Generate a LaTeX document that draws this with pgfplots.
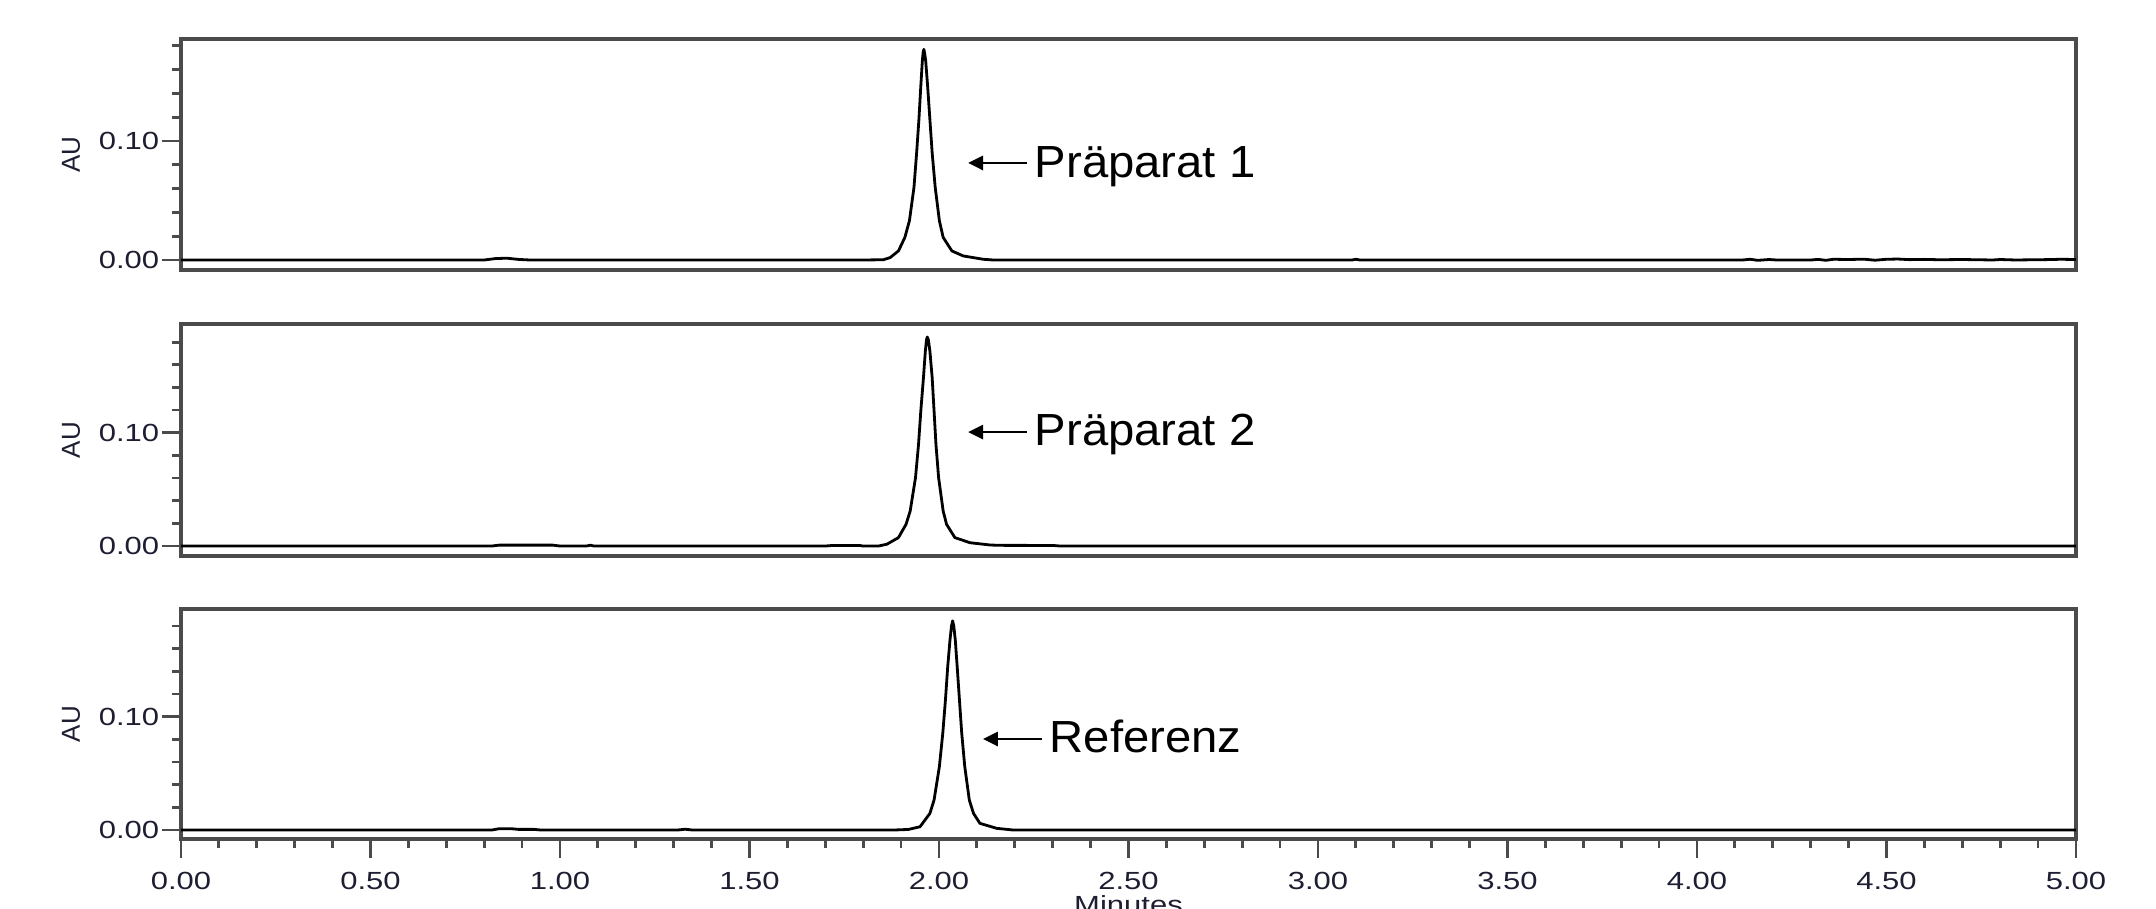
\documentclass[border=0pt]{standalone}
\usepackage{fontspec}
\setmainfont{Liberation Sans}
\newfontfamily\tickfont[FakeStretch=1.25]{Liberation Sans}
\newfontfamily\annfont[FakeStretch=1.05]{Liberation Sans}
\usepackage{pgfplots}
\pgfplotsset{compat=1.18}
\usetikzlibrary{arrows.meta}
\definecolor{framegray}{RGB}{75,75,75}
\definecolor{labelink}{RGB}{30,30,50}

\pgfplotsset{
  chrom/.style={
    scale only axis, anchor=south west,
    width=473.75pt,
    xmin=0, xmax=5,
    axis line style={draw=framegray, line width=0.85pt},
    tick pos=left, tick align=outside,
    every tick/.style={framegray, line width=0.7pt},
    major tick length=4.75pt, minor tick length=2.25pt,
    ytick={0,0.1}, yticklabels={0.00,0.10},
    minor ytick={0.02,0.04,0.06,0.08,0.12,0.14,0.16,0.18},
    yticklabel style={font=\tickfont\fontsize{6.2}{7}\selectfont, text=labelink, inner sep=0.5pt},
    ylabel={AU},
    ylabel style={at={(axis description cs:-0.058,0.5)}, anchor=center,
                  font=\fontsize{6.5}{7}\selectfont, text=labelink},
    xtick=\empty,
  },
  trace/.style={black, line width=0.7pt, line join=round},
}
\tikzset{
  pointer/.style={-{Triangle[length=3.75pt,width=3.6pt]}, black, line width=0.5pt},
  anntext/.style={anchor=base west, inner sep=0pt, font=\annfont\fontsize{11.25}{13}\selectfont},
}

\begin{document}
\begin{tikzpicture}

% Praeparat 1
\begin{axis}[chrom, at={(45.25pt,159.75pt)}, height=57.75pt, ymin=-0.0084, ymax=0.1857]
\addplot[trace] coordinates {
(0,0)(0.80,0)(0.83,0.0012)(0.86,0.0015)(0.89,0.0005)(0.92,0)
(1.80,0)(1.853,0.0002)(1.871,0.002)(1.893,0.0076)(1.910,0.019)(1.922,0.033)
(1.934,0.061)(1.941,0.090)(1.947,0.118)(1.952,0.146)(1.956,0.167)(1.958,0.174)
(1.960,0.177)(1.962,0.174)(1.965,0.167)(1.970,0.146)(1.976,0.118)(1.982,0.090)
(1.990,0.061)(2.001,0.033)(2.011,0.019)(2.034,0.0076)(2.064,0.0034)(2.117,0.0006)
(2.143,0)(3.09,0)(3.10,0.0006)(3.11,0)
(4.12,0)(4.14,0.0006)(4.16,-0.0003)(4.19,0.0004)(4.21,0)(4.30,0)(4.32,0.0005)
(4.34,-0.0003)(4.36,0.0006)(4.40,0.0004)(4.44,0.0007)(4.47,-0.0002)(4.50,0.0006)
(4.53,0.0008)(4.56,0.0003)(4.60,0.0005)(4.64,0.0002)(4.70,0.0004)(4.78,0)
(4.80,0.0004)(4.84,0)(4.92,0.0003)(4.96,0.0006)(5.0,0.0004)
};
\draw[pointer] (axis cs:2.232,0.0815) -- (axis cs:2.077,0.0815);
\node[anntext] at (axis cs:2.251,0.0695) {Präparat 1};
\end{axis}

% Praeparat 2
\begin{axis}[chrom, at={(45.25pt,88.25pt)}, height=58pt, ymin=-0.0088, ymax=0.196]
\addplot[trace] coordinates {
(0,0)(0.82,0)(0.84,0.0008)(0.98,0.0008)(1.00,0)(1.07,0)(1.08,0.0007)(1.09,0)
(1.70,0)(1.72,0.0005)(1.79,0.0005)(1.80,0)(1.84,0)
(1.862,0.0015)(1.893,0.0074)(1.913,0.0191)(1.924,0.0309)(1.938,0.0603)(1.946,0.0897)
(1.952,0.1192)(1.959,0.1486)(1.964,0.1721)(1.967,0.182)(1.969,0.1845)(1.972,0.182)
(1.976,0.1721)(1.982,0.1486)(1.987,0.1192)(1.992,0.0897)(1.999,0.0603)(2.011,0.0309)
(2.020,0.0191)(2.042,0.0074)(2.082,0.0029)(2.135,0.0009)(2.16,0.0006)
(2.30,0.0005)(2.32,0)(5,0)
};
\draw[pointer] (axis cs:2.232,0.1006) -- (axis cs:2.077,0.1006);
\node[anntext] at (axis cs:2.251,0.0883) {Präparat 2};
\end{axis}

% Referenz
\begin{axis}[chrom, at={(45.25pt,17.5pt)}, height=57.5pt, ymin=-0.0079, ymax=0.195,
  xtick={0,0.5,...,5}, xticklabels={0.00,0.50,1.00,1.50,2.00,2.50,3.00,3.50,4.00,4.50,5.00},
  minor xtick={0.1,0.2,...,4.9},
  xticklabel style={font=\tickfont\fontsize{6.2}{7}\selectfont, text=labelink},
  xlabel={Minutes},
  xlabel style={at={(axis description cs:0.5,0)}, anchor=north, inner sep=0pt, yshift=-14pt,
                font=\tickfont\fontsize{6.2}{7}\selectfont, text=labelink}]
\addplot[trace] coordinates {
(0,0)(0.82,0)(0.84,0.0012)(0.87,0.0012)(0.89,0.0006)(0.93,0.0006)(0.95,0)
(1.31,0)(1.33,0.0007)(1.35,0)(1.88,0)
(1.919,0.0005)(1.950,0.0029)(1.976,0.0147)(1.987,0.0265)(2.001,0.0559)(2.010,0.0853)
(2.017,0.1147)(2.023,0.1441)(2.029,0.1677)(2.033,0.180)(2.036,0.1845)(2.039,0.180)
(2.043,0.1677)(2.048,0.1441)(2.054,0.1147)(2.060,0.0853)(2.068,0.0559)(2.080,0.0265)
(2.091,0.0147)(2.108,0.0059)(2.152,0.0015)(2.196,0)(5,0)
};
\draw[pointer] (axis cs:2.272,0.0803) -- (axis cs:2.116,0.0803);
\node[anntext] at (axis cs:2.290,0.068) {Referenz};
\end{axis}

\pgfresetboundingbox
\path[use as bounding box] (0,0) rectangle (539pt,227.25pt);
\end{tikzpicture}
\end{document}
